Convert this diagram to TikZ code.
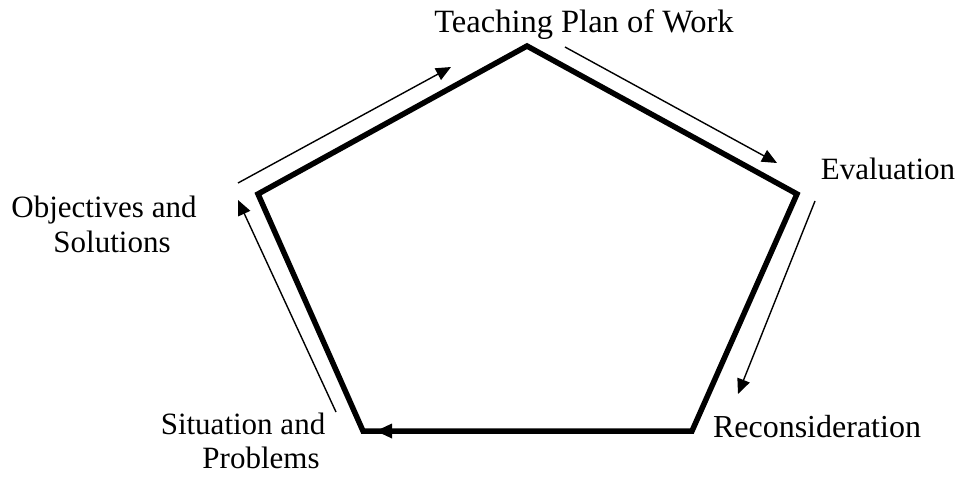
\documentclass[tikz,border=0pt]{standalone}
\usepackage{fontspec}
\setmainfont{Liberation Serif}
\usetikzlibrary{arrows.meta}
\begin{document}
\begin{tikzpicture}[x=1pt,y=-1pt,
  lbl/.style={font=\fontsize{31}{36}\selectfont, inner sep=0pt, align=center},
  edge/.style={line width=5.5pt, line join=miter},
  flow/.style={line width=1.4pt, -{Triangle[length=15pt,width=13pt]}}]
\useasboundingbox (0,0) rectangle (967,479);
% pentagon vertices
\coordinate (T) at (527,46);
\coordinate (R) at (797,194);
\coordinate (BR) at (692,431);
\coordinate (BL) at (363,431);
\coordinate (L) at (258,194);
\draw[edge] (T) -- (R) -- (BR) -- (BL) -- (L) -- cycle;
\coordinate (tipB) at (376,431);
\fill (tipB) -- ++(16,-7.5) -- ++(0,15) -- cycle;
% labels
\node[lbl, anchor=base] (teach) at (584,32) {\fontsize{32.5}{36}\selectfont Teaching Plan of Work};
\node[lbl, anchor=base] (eval) at (888,179) {Evaluation};
\node[lbl, anchor=base] (recon) at (817,437) {\fontsize{32}{36}\selectfont Reconsideration};
\node[lbl, anchor=base] (obj1) at (104,217) {Objectives and};
\node[lbl, anchor=base] (obj2) at (112,252) {Solutions};
\node[lbl, anchor=base] (sit1) at (243,434) {Situation and};
\node[lbl, anchor=base] (sit2) at (261,468) {Problems};
% flow arrows
\coordinate (a1s) at (238,183); \coordinate (a1e) at (451,67);
\coordinate (a2s) at (565,47);  \coordinate (a2e) at (777,163);
\coordinate (a3s) at (815,201); \coordinate (a3e) at (738,394);
\coordinate (a4s) at (336,412); \coordinate (a4e) at (238,200);
\draw[flow] (a1s) -- (a1e);
\draw[flow] (a2s) -- (a2e);
\draw[flow] (a3s) -- (a3e);
\draw[flow] (a4s) -- (a4e);
\end{tikzpicture}
\end{document}
